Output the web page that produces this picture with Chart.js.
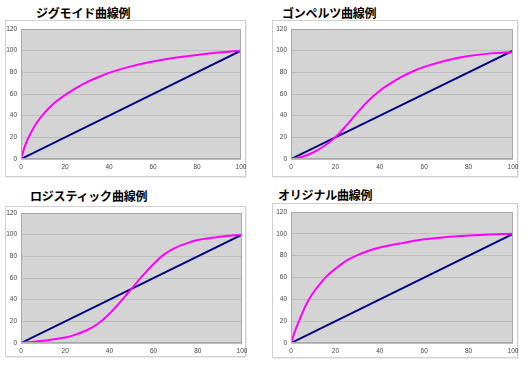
<!DOCTYPE html>
<html>
<head>
<meta charset="utf-8">
<script src="https://cdn.jsdelivr.net/npm/chart.js@4/dist/chart.umd.min.js"></script>
<style>
  body { margin: 0; width: 530px; height: 366px; background: #fff; position: relative; overflow: hidden; }
  .title { position: absolute; font-family: "Noto Sans CJK JP", sans-serif; font-weight: bold; font-size: 12px; letter-spacing: -0.2px; color: #000; line-height: 16px; white-space: nowrap; }
  .box { position: absolute; border: 1px solid #d0d0d0; box-shadow: 1px 1px 0 #ececec; box-sizing: border-box; }
  .box canvas { position: absolute; left: 0; top: 0; }
</style>
</head>
<body>
<div class="title" style="left:36px;top:5px">ジグモイド曲線例</div>
<div class="title" style="left:282px;top:5px">ゴンペルツ曲線例</div>
<div class="title" style="left:30px;top:188px">ロジスティック曲線例</div>
<div class="title" style="left:278px;top:187px">オリジナル曲線例</div>

<div class="box" id="b1" style="left:5px;top:20px;width:241px;height:157px"><canvas id="c1"></canvas></div>
<div class="box" id="b2" style="left:272px;top:20px;width:246px;height:157px"><canvas id="c2"></canvas></div>
<div class="box" id="b3" style="left:5px;top:206px;width:241px;height:151px"><canvas id="c3"></canvas></div>
<div class="box" id="b4" style="left:272px;top:203px;width:246px;height:155px"><canvas id="c4"></canvas></div>

<script>
// 直線 (基準線)
const lineX = [0, 100];
const lineY = [0, 100];

// ジグモイド曲線
const sigX = [0, 1, 2, 3, 5, 7, 10, 13, 16, 20, 25, 30, 35, 40, 50, 60, 70, 80, 90, 100];
const sigY = [0, 7, 13, 18, 26, 33, 41, 47.5, 53, 59, 65.5, 71, 75.5, 79.5, 85.5, 90, 93.5, 96, 98.2, 100];

// ゴンペルツ曲線
const gomX = [0, 5, 10, 15, 20, 25, 30, 35, 40, 45, 50, 55, 60, 70, 80, 90, 100];
const gomY = [0, 2, 6, 12, 20, 31, 43, 54, 63, 70, 76, 81, 85, 91, 95, 97.5, 98.5];

// ロジスティック曲線
const logX = [0, 5, 10, 15, 20, 25, 30, 35, 40, 45, 50, 55, 60, 65, 70, 75, 80, 90, 100];
const logY = [0.5, 1, 2, 3.5, 5, 8, 12, 18, 27, 38, 50, 62, 73, 82, 88, 92, 95, 98, 100];

// オリジナル曲線
const orgX = [0, 2, 5, 7, 10, 13, 16, 20, 25, 30, 35, 40, 50, 60, 70, 80, 90, 100];
const orgY = [0, 12, 27, 36, 46, 54, 61, 68, 75.5, 80.5, 84.5, 87.5, 91.5, 95, 97, 98.5, 99.5, 100];

const xTicks = [0, 20, 40, 60, 80, 100];
const yTicks = [0, 20, 40, 60, 80, 100, 120];

function pts(xs, ys) {
  return xs.map((x, i) => ({ x: x, y: ys[i] }));
}

// プロットエリア背景
const plotBg = {
  id: 'plotBg',
  beforeDraw(chart) {
    const a = chart.chartArea;
    const ctx = chart.ctx;
    ctx.save();
    ctx.fillStyle = '#d4d4d4';
    ctx.fillRect(a.left, a.top, a.right - a.left, a.bottom - a.top);
    ctx.restore();
  },
  afterDatasetsDraw(chart) {
    const a = chart.chartArea;
    const ctx = chart.ctx;
    ctx.save();
    ctx.strokeStyle = '#a8a8a8';
    ctx.lineWidth = 1;
    ctx.strokeRect(a.left + 0.5, a.top + 0.5, a.right - a.left - 1, a.bottom - a.top - 1);
    ctx.restore();
  }
};

const EXTRA = 5; // "100" ラベルが枠からはみ出せるように

function makeChart(id, boxId, xs, ys, pad) {
  const box = document.getElementById(boxId);
  const w = box.clientWidth + EXTRA, h = box.clientHeight;
  const cv = document.getElementById(id);
  cv.width = w; cv.height = h;
  cv.style.width = w + 'px'; cv.style.height = h + 'px';
  new Chart(cv, {
    type: 'line',
    data: {
      datasets: [
        {
          data: pts(xs, ys),
          borderColor: '#ff00ff',
          borderWidth: 2,
          pointRadius: 0,
          cubicInterpolationMode: 'monotone',
          order: 1
        },
        {
          data: pts(lineX, lineY),
          borderColor: '#000080',
          borderWidth: 2,
          pointRadius: 0,
          order: 2
        }
      ]
    },
    options: {
      responsive: false,
      animation: false,
      events: [],
      layout: { padding: { top: pad.top, right: pad.right + EXTRA, left: 0, bottom: 0 } },
      plugins: { legend: { display: false }, tooltip: { enabled: false } },
      scales: {
        x: {
          type: 'linear',
          min: 0, max: 100,
          afterBuildTicks: s => { s.ticks = xTicks.map(v => ({ value: v })); },
          afterFit: s => { s.height = pad.bottom; s.paddingLeft = 0; s.paddingRight = 0; },
          grid: { display: false, drawTicks: false },
          border: { display: false },
          ticks: { padding: 4, font: { family: 'Liberation Sans', size: 6.5 }, color: '#444', maxRotation: 0 }
        },
        y: {
          min: 0, max: 120,
          afterBuildTicks: s => { s.ticks = yTicks.map(v => ({ value: v })); },
          afterFit: s => { s.width = pad.left; s.paddingTop = 0; s.paddingBottom = 0; },
          grid: { color: '#bdbdbd', drawTicks: false },
          border: { display: false },
          ticks: { padding: 4, font: { family: 'Liberation Sans', size: 6.5 }, color: '#444' }
        }
      }
    },
    plugins: [plotBg]
  });
}

makeChart('c1', 'b1', sigX, sigY, { left: 15, top: 8, right: 4, bottom: 17 });
makeChart('c2', 'b2', gomX, gomY, { left: 18, top: 8, right: 4, bottom: 17 });
makeChart('c3', 'b3', logX, logY, { left: 15, top: 6, right: 3, bottom: 13 });
makeChart('c4', 'b4', orgX, orgY, { left: 18, top: 8, right: 4, bottom: 14 });
</script>
</body>
</html>
